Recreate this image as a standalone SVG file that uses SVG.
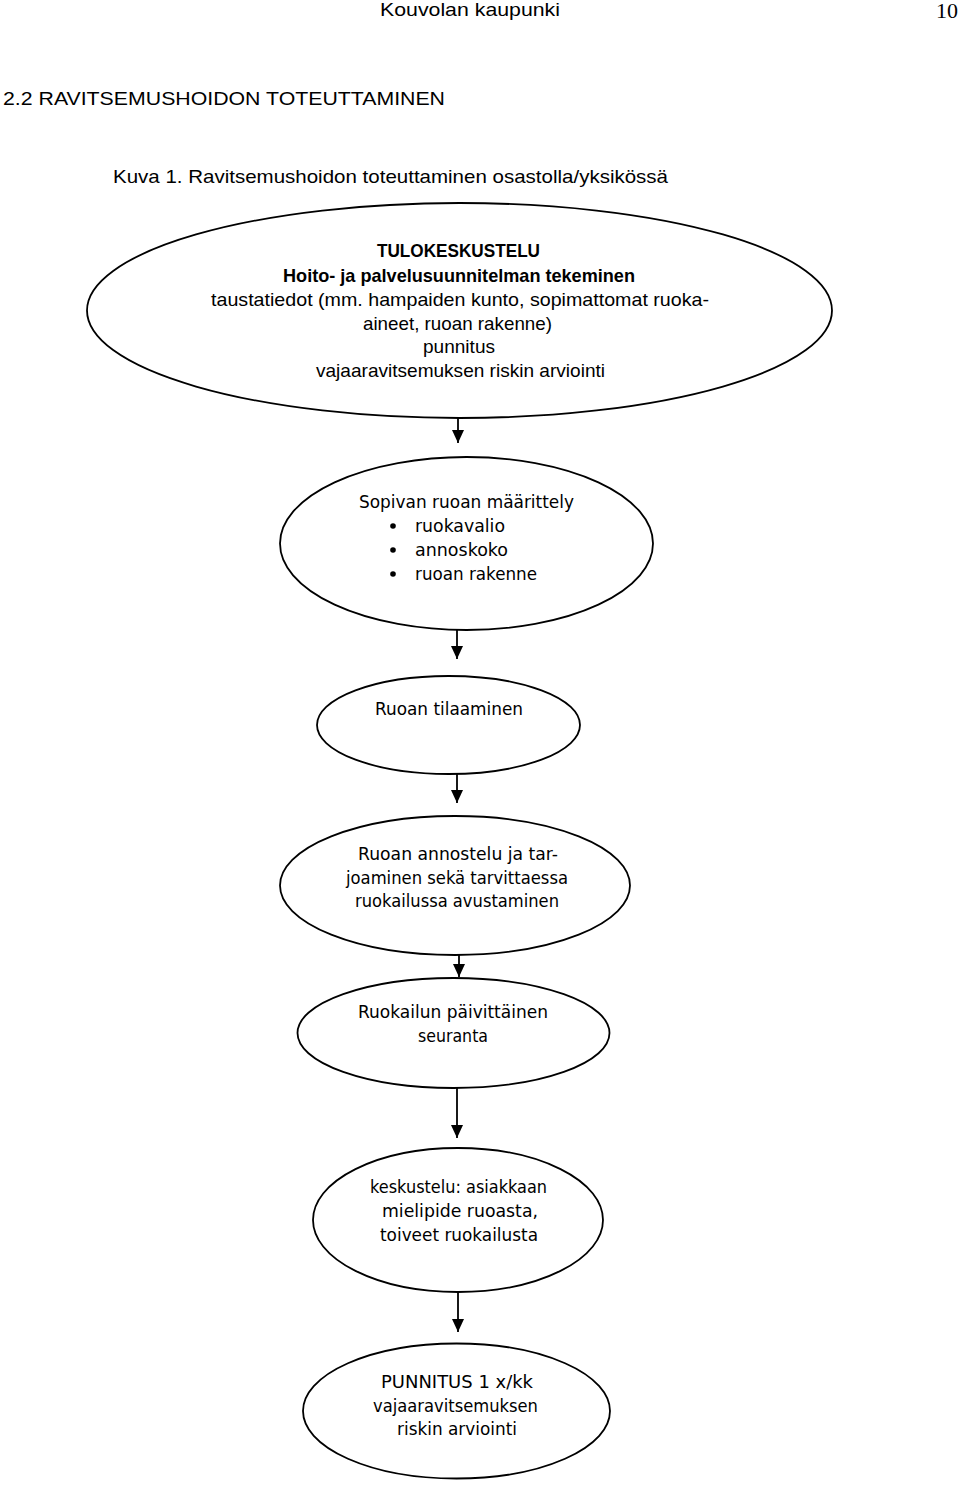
<svg xmlns="http://www.w3.org/2000/svg" width="960" height="1487" viewBox="0 0 960 1487">
<style>
.hd{font-family:"Liberation Sans",Arial,sans-serif;font-size:19px;fill:#000}
.bt{font-family:"Liberation Sans",Arial,sans-serif;font-size:19px;fill:#000}
.bb{font-family:"Liberation Sans",Arial,sans-serif;font-size:18.5px;font-weight:bold;fill:#000}
.nt{font-family:"DejaVu Sans","Noto Sans",sans-serif;font-size:17.5px;fill:#000}
.el{fill:#fff;stroke:#000;stroke-width:1.8}
.cn{stroke:#000;stroke-width:1.8;fill:none}
</style>
<defs>
<marker id="ah" markerUnits="userSpaceOnUse" markerWidth="14" markerHeight="14" refX="13" refY="7" orient="auto" viewBox="0 0 14 14">
<path d="M0,1 L13,7 L0,13 Z" fill="#000"/>
</marker>
</defs>
<rect width="960" height="1487" fill="#fff"/>
<g id="header">
<text class="hd" x="380" y="16" textLength="180" lengthAdjust="spacingAndGlyphs">Kouvolan kaupunki</text>
<text x="936" y="18" font-family="Liberation Serif,serif" font-size="22" textLength="22" lengthAdjust="spacingAndGlyphs">10</text>
<text class="hd" x="3" y="105" textLength="442" lengthAdjust="spacingAndGlyphs">2.2 RAVITSEMUSHOIDON TOTEUTTAMINEN</text>
<text class="hd" x="113" y="183" textLength="555" lengthAdjust="spacingAndGlyphs">Kuva 1. Ravitsemushoidon toteuttaminen osastolla/yksikössä</text>
</g>
<g id="connectors">
<line class="cn" x1="458" y1="418" x2="458" y2="443" marker-end="url(#ah)"/>
<line class="cn" x1="457" y1="630" x2="457" y2="659" marker-end="url(#ah)"/>
<line class="cn" x1="457" y1="774" x2="457" y2="803" marker-end="url(#ah)"/>
<line class="cn" x1="459" y1="955" x2="459" y2="977" marker-end="url(#ah)"/>
<line class="cn" x1="457" y1="1088" x2="457" y2="1138" marker-end="url(#ah)"/>
<line class="cn" x1="458" y1="1292" x2="458" y2="1332" marker-end="url(#ah)"/>
</g>
<g id="node1">
<ellipse class="el" cx="459.5" cy="310.5" rx="372.5" ry="107.5"/>
<text class="bb" x="377" y="257" textLength="163" lengthAdjust="spacingAndGlyphs">TULOKESKUSTELU</text>
<text class="bb" x="283" y="282" textLength="352" lengthAdjust="spacingAndGlyphs">Hoito- ja palvelusuunnitelman tekeminen</text>
<text class="bt" x="211" y="306" textLength="498" lengthAdjust="spacingAndGlyphs">taustatiedot (mm. hampaiden kunto, sopimattomat ruoka-</text>
<text class="bt" x="363" y="330" textLength="189" lengthAdjust="spacingAndGlyphs">aineet, ruoan rakenne)</text>
<text class="bt" x="423" y="353" textLength="72" lengthAdjust="spacingAndGlyphs">punnitus</text>
<text class="bt" x="316" y="377" textLength="289" lengthAdjust="spacingAndGlyphs">vajaaravitsemuksen riskin arviointi</text>
</g>
<g id="node2">
<ellipse class="el" cx="466.5" cy="543.5" rx="186.5" ry="86.5"/>
<text class="nt" x="359" y="508" textLength="215" lengthAdjust="spacingAndGlyphs">Sopivan ruoan määrittely</text>
<circle cx="393" cy="526" r="2.8" fill="#000"/>
<circle cx="393" cy="550" r="2.8" fill="#000"/>
<circle cx="393" cy="574" r="2.8" fill="#000"/>
<text class="nt" x="415" y="532" textLength="90" lengthAdjust="spacingAndGlyphs">ruokavalio</text>
<text class="nt" x="415" y="556" textLength="93" lengthAdjust="spacingAndGlyphs">annoskoko</text>
<text class="nt" x="415" y="580" textLength="122" lengthAdjust="spacingAndGlyphs">ruoan rakenne</text>
</g>
<g id="node3">
<ellipse class="el" cx="448.5" cy="725" rx="131.5" ry="49"/>
<text class="nt" x="375" y="715" textLength="148" lengthAdjust="spacingAndGlyphs">Ruoan tilaaminen</text>
</g>
<g id="node4">
<ellipse class="el" cx="455" cy="885.5" rx="175" ry="69.5"/>
<text class="nt" x="358" y="860" textLength="200" lengthAdjust="spacingAndGlyphs">Ruoan annostelu ja tar-</text>
<text class="nt" x="346" y="884" textLength="222" lengthAdjust="spacingAndGlyphs">joaminen sekä tarvittaessa</text>
<text class="nt" x="355" y="907" textLength="204" lengthAdjust="spacingAndGlyphs">ruokailussa avustaminen</text>
</g>
<g id="node5">
<ellipse class="el" cx="453.5" cy="1033" rx="156" ry="55"/>
<text class="nt" x="358" y="1018" textLength="190" lengthAdjust="spacingAndGlyphs">Ruokailun päivittäinen</text>
<text class="nt" x="418" y="1042" textLength="70" lengthAdjust="spacingAndGlyphs">seuranta</text>
</g>
<g id="node6">
<ellipse class="el" cx="458" cy="1220" rx="145" ry="72"/>
<text class="nt" x="370" y="1193" textLength="177" lengthAdjust="spacingAndGlyphs">keskustelu: asiakkaan</text>
<text class="nt" x="382" y="1217" textLength="156" lengthAdjust="spacingAndGlyphs">mielipide ruoasta,</text>
<text class="nt" x="380" y="1241" textLength="158" lengthAdjust="spacingAndGlyphs">toiveet ruokailusta</text>
</g>
<g id="node7">
<ellipse class="el" cx="456.5" cy="1411" rx="153.5" ry="67.5"/>
<text class="nt" x="381" y="1388" textLength="152" lengthAdjust="spacingAndGlyphs">PUNNITUS 1 x/kk</text>
<text class="nt" x="373" y="1412" textLength="165" lengthAdjust="spacingAndGlyphs">vajaaravitsemuksen</text>
<text class="nt" x="397" y="1435" textLength="120" lengthAdjust="spacingAndGlyphs">riskin arviointi</text>
</g>
</svg>
